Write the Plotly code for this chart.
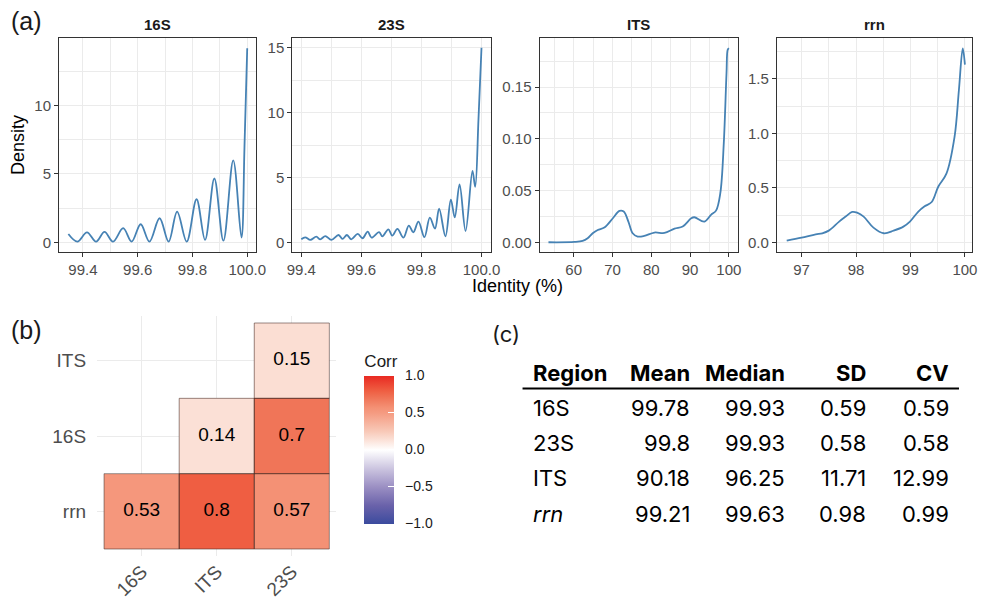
import plotly.graph_objects as go

W, H = 982, 601
# the rendered figure shows up 966 px wide, 8 px from the left edge of the page
X_OFF, X_SPAN = 8, 966


def px(x):
    return (x - X_OFF) / X_SPAN


def py(y):
    return 1 - y / H


# ---------------- data: density curves ----------------
regions = ["16S", "23S", "ITS", "rrn"]

x_16S = [99.347, 99.38, 99.415, 99.448, 99.479, 99.51, 99.547, 99.578, 99.611,
         99.643, 99.68, 99.713, 99.744, 99.779, 99.815, 99.846, 99.88, 99.913,
         99.949, 99.979, 99.99, 100.0]
y_16S = [0.61, 0.05, 0.73, 0.05, 0.76, 0.05, 1.03, 0.05, 1.32,
         0.05, 1.76, 0.05, 2.25, 0.05, 3.15, 0.17, 4.67, 0.12,
         5.99, 0.35, 7.0, 14.2]

x_23S = [99.4, 99.413, 99.43, 99.45, 99.463, 99.48, 99.50, 99.524, 99.537, 99.552,
         99.566, 99.588, 99.604, 99.621, 99.634, 99.659, 99.67, 99.69, 99.703,
         99.72, 99.74, 99.758, 99.773, 99.79, 99.81, 99.828, 99.845, 99.859,
         99.88, 99.898, 99.911, 99.927, 99.947, 99.97, 99.979, 99.99, 100.0]
y_23S = [0.23, 0.38, 0.18, 0.43, 0.23, 0.48, 0.18, 0.56, 0.26, 0.56,
         0.23, 0.64, 0.31, 0.82, 0.36, 0.79, 0.46, 1.0, 0.51,
         1.03, 0.36, 1.28, 0.77, 1.59, 0.39, 1.9, 1.05, 2.59,
         0.46, 3.28, 1.92, 4.46, 0.87, 5.5, 4.27, 9.5, 15.0]

x_ITS = [53.5, 60.2, 62.3, 63.6, 64.9, 66.2, 67.9, 70.1, 71.8, 72.9, 74.1, 75.2,
         76.5, 78.2, 80.8, 83.4, 86.0, 88.1, 90.3, 91.1, 93.7, 95.4, 96.7, 97.8,
         98.7, 99.4, 99.7, 100.0]
y_ITS = [0.0, 0.0003, 0.0013, 0.0039, 0.0087, 0.0119, 0.0142, 0.0232, 0.0303,
         0.0297, 0.020, 0.0087, 0.0055, 0.0061, 0.0094, 0.009, 0.0132, 0.0152,
         0.0232, 0.0242, 0.020, 0.0265, 0.0306, 0.0474, 0.0958, 0.1635, 0.186,
         0.1877]

x_rrn = [96.727, 97.0, 97.26, 97.38, 97.5, 97.69, 97.81, 97.93, 98.02, 98.14,
         98.32, 98.51, 98.69, 98.87, 98.99, 99.14, 99.26, 99.39, 99.51, 99.66,
         99.81, 99.89, 99.96, 100.0]
y_rrn = [0.015, 0.043, 0.073, 0.083, 0.107, 0.19, 0.236, 0.279, 0.272, 0.236,
         0.135, 0.083, 0.107, 0.144, 0.19, 0.28, 0.33, 0.37, 0.51, 0.63,
         0.97, 1.40, 1.78, 1.63]

# tick labels
xt_16S = [99.4, 99.6, 99.8, 100.0]
xl_16S = ["99.4", "99.6", "99.8", "100.0"]
yt_16S = [0, 5, 10]
yl_16S = ["0", "5", "10"]
xt_23S = [99.4, 99.6, 99.8, 100.0]
xl_23S = ["99.4", "99.6", "99.8", "100.0"]
yt_23S = [0, 5, 10, 15]
yl_23S = ["0", "5", "10", "15"]
xt_ITS = [60, 70, 80, 90, 100]
xl_ITS = ["60", "70", "80", "90", "100"]
yt_ITS = [0, 0.05, 0.10, 0.15]
yl_ITS = ["0.00", "0.05", "0.10", "0.15"]
xt_rrn = [97, 98, 99, 100]
xl_rrn = ["97", "98", "99", "100"]
yt_rrn = [0, 0.5, 1.0, 1.5]
yl_rrn = ["0.0", "0.5", "1.0", "1.5"]

# ---------------- data: correlation ----------------
corr_x = ["16S", "ITS", "23S"]
corr_y = ["rrn", "16S", "ITS"]
corr_z = [[0.53, 0.8, 0.57],
          [None, 0.14, 0.7],
          [None, None, 0.15]]
cbar_vals = [-1.0, -0.5, 0.0, 0.5, 1.0]
cbar_text = ["\u22121.0", "\u22120.5", "0.0", "0.5", "1.0"]

# ---------------- data: summary table ----------------
tbl_header = ["Region", "Mean", "Median", "SD", "CV"]
tbl_region = ["16S", "23S", "ITS", "rrn"]
tbl_mean = ["99.78", "99.8", "90.18", "99.21"]
tbl_median = ["99.93", "99.93", "96.25", "99.63"]
tbl_sd = ["0.59", "0.58", "11.71", "0.98"]
tbl_cv = ["0.59", "0.58", "12.99", "0.99"]

# ---------------- layout constants ----------------
panels = {
    "16S": dict(xd=(62, 259), xr=(99.313, 100.033), yr=(-0.71, 14.95),
                xmin=[99.5, 99.7, 99.9], ymin=[2.5, 7.5, 12.5],
                x=x_16S, y=y_16S, xt=xt_16S, xl=xl_16S, yt=yt_16S, yl=yl_16S),
    "23S": dict(xd=(295, 493), xr=(99.37, 100.03), yr=(-0.75, 15.75),
                xmin=[99.5, 99.7, 99.9], ymin=[2.5, 7.5, 12.5],
                x=x_23S, y=y_23S, xt=xt_23S, xl=xl_23S, yt=yt_23S, yl=yl_23S),
    "ITS": dict(xd=(542, 740), xr=(51.2, 102.3), yr=(-0.0094, 0.1974),
                xmin=[55, 65, 75, 85, 95], ymin=[0.025, 0.075, 0.125, 0.175],
                x=x_ITS, y=y_ITS, xt=xt_ITS, xl=xl_ITS, yt=yt_ITS, yl=yl_ITS),
    "rrn": dict(xd=(779, 974), xr=(96.545, 100.13), yr=(-0.089, 1.875),
                xmin=[96.5, 97.5, 98.5, 99.5], ymin=[0.25, 0.75, 1.25, 1.75],
                x=x_rrn, y=y_rrn, xt=xt_rrn, xl=xl_rrn, yt=yt_rrn, yl=yl_rrn),
}
PANEL_TOP, PANEL_BOT = 38, 252
GRID = "#EBEBEB"
BORDER = "#333333"
TICKC = "#4D4D4D"
FONT = "Liberation Sans, Arial, sans-serif"
TFONT = "Inter, Liberation Sans, sans-serif"
NBSP = "\u00a0"

fig = go.Figure()
layout = dict(width=W, height=H, autosize=False, margin=dict(l=0, r=0, t=0, b=0, pad=0),
              paper_bgcolor="white", plot_bgcolor="white", showlegend=False,
              font=dict(family=FONT))
annotations = []
shapes = []

for i, reg in enumerate(regions, start=1):
    p = panels[reg]
    xa = "x" if i == 1 else f"x{i}"
    ya = "y" if i == 1 else f"y{i}"
    fig.add_trace(go.Scatter(x=p["x"], y=p["y"], mode="lines",
                             line=dict(color="#4682B4", width=1.8, shape="spline", smoothing=1.0),
                             xaxis=xa, yaxis=ya, hoverinfo="skip"))
    common = dict(showline=True, mirror=True, linecolor=BORDER, linewidth=1,
                  ticks="outside", ticklen=4, tickcolor=BORDER, tickwidth=1,
                  showgrid=True, gridcolor=GRID, gridwidth=1.3, zeroline=False,
                  tickfont=dict(size=15, color=TICKC, family=FONT))
    layout["xaxis" if i == 1 else f"xaxis{i}"] = dict(
        common, domain=[max(0, px(p["xd"][0])), min(1, px(p["xd"][1]))], range=list(p["xr"]),
        anchor=ya, tickmode="array", tickvals=p["xt"], ticktext=p["xl"],
        minor=dict(tickmode="array", tickvals=p["xmin"], showgrid=True,
                   gridcolor=GRID, gridwidth=0.7, ticks=""))
    layout["yaxis" if i == 1 else f"yaxis{i}"] = dict(
        common, domain=[py(PANEL_BOT), py(PANEL_TOP)], range=list(p["yr"]),
        anchor=xa, tickmode="array", tickvals=p["yt"], ticktext=p["yl"],
        minor=dict(tickmode="array", tickvals=p["ymin"], showgrid=True,
                   gridcolor=GRID, gridwidth=0.7, ticks=""))
    annotations.append(dict(text=f"<b>{reg}</b>", x=px((p["xd"][0] + p["xd"][1]) / 2), y=py(25),
                            xref="paper", yref="paper", showarrow=False,
                            font=dict(size=15, color="#1A1A1A", family=FONT),
                            xanchor="center", yanchor="middle"))

annotations.append(dict(text="Density", x=px(21), y=py(145), xref="paper", yref="paper",
                        showarrow=False, textangle=-90, font=dict(size=18, color="black"),
                        xanchor="center", yanchor="middle"))
annotations.append(dict(text="Identity (%)", x=px(520), y=py(286), xref="paper", yref="paper",
                        showarrow=False, font=dict(size=18, color="black"),
                        xanchor="center", yanchor="middle"))
for lab, lx, ly in [("(a)", 12, 21), ("(b)", 12, 330)]:
    annotations.append(dict(text=lab, x=px(lx), y=py(ly), xref="paper", yref="paper",
                            showarrow=False, font=dict(size=25, color="#1A1A1A"),
                            xanchor="left", yanchor="middle"))
annotations.append(dict(text="(c)", x=px(492), y=py(334), xref="paper", yref="paper",
                        showarrow=False, font=dict(size=22, color="#1A1A1A", family=TFONT),
                        xanchor="left", yanchor="middle"))

# ---------------- correlation heatmap ----------------
colorscale = [
    [0.0, "#3B4B9E"], [0.125, "#6A62AA"], [0.25, "#9B8FC3"], [0.375, "#CCC5E0"],
    [0.5, "#FFFFFF"], [0.57, "#FBE0D6"], [0.625, "#F8C9B8"], [0.75, "#F59B81"],
    [0.785, "#F49175"], [0.85, "#F07558"], [0.9, "#EF5E42"], [1.0, "#E92A22"],
]
ix = list(range(len(corr_x)))
iy = list(range(len(corr_y)))
fig.add_trace(go.Heatmap(
    x=ix, y=iy, z=corr_z, zmin=-1, zmax=1, colorscale=colorscale,
    xaxis="x5", yaxis="y5", hoverinfo="skip",
    colorbar=dict(x=px(367), xanchor="left", y=py(437.5), yanchor="middle",
                  len=172, lenmode="pixels", thickness=30, thicknessmode="pixels",
                  xpad=0, ypad=0, outlinewidth=0,
                  ticks="inside", ticklen=6, tickcolor="white", tickwidth=1,
                  tickmode="array", tickvals=cbar_vals,
                  ticktext=[NBSP * 2 + t for t in cbar_text],
                  tickfont=dict(size=14, color="#1A1A1A", family=FONT),
                  title=dict(text="Corr", side="top", font=dict(size=17, color="#1A1A1A", family=FONT)))))

tx, ty, tt = [], [], []
for r, row in enumerate(corr_z):
    for c, v in enumerate(row):
        if v is None:
            continue
        tx.append(c)
        ty.append(r)
        tt.append(str(v))
        shapes.append(dict(type="rect", xref="x5", yref="y5", x0=c - 0.5, x1=c + 0.5,
                           y0=r - 0.5, y1=r + 0.5, line=dict(color="rgba(70,45,40,0.55)", width=1),
                           fillcolor="rgba(0,0,0,0)", layer="above"))
fig.add_trace(go.Scatter(x=tx, y=ty, text=tt, mode="text", xaxis="x5", yaxis="y5",
                         textfont=dict(size=19, color="black", family=FONT), hoverinfo="skip"))

layout["xaxis5"] = dict(domain=[px(100), px(339)], range=[-0.593, 2.593], anchor="y5",
                        tickmode="array", tickvals=ix, ticktext=corr_x, tickangle=-45,
                        showgrid=True, gridcolor=GRID, gridwidth=1.3, zeroline=False,
                        showline=False, ticks="", tickfont=dict(size=19, color=TICKC, family=FONT))
layout["yaxis5"] = dict(domain=[py(556), py(316)], range=[-0.593, 2.593], anchor="x5",
                        tickmode="array", tickvals=iy, ticktext=corr_y,
                        showgrid=True, gridcolor=GRID, gridwidth=1.3, zeroline=False,
                        showline=False, ticks="", ticklabelstandoff=10,
                        tickfont=dict(size=19, color=TICKC, family=FONT))

# ---------------- summary table ----------------
col_x = [533, 694, 789, 870, 953]
col_anchor = ["left", "right", "right", "right", "right"]
head_y = 373
row_y = [408, 443, 478, 514]
for h, cx, an in zip(tbl_header, col_x, col_anchor):
    annotations.append(dict(text=f"<b>{h}</b>", x=px(cx), y=py(head_y), xref="paper", yref="paper",
                            showarrow=False, xanchor=an, yanchor="middle",
                            font=dict(size=22, color="black", family=TFONT)))
columns = [tbl_region, tbl_mean, tbl_median, tbl_sd, tbl_cv]
for ci, (col, cx, an) in enumerate(zip(columns, col_x, col_anchor)):
    for ri, val in enumerate(col):
        txt = val
        if ci == 0 and val == "rrn":
            txt = "<i>rrn</i>"
        annotations.append(dict(text=txt, x=px(cx), y=py(row_y[ri]), xref="paper", yref="paper",
                                showarrow=False, xanchor=an, yanchor="middle",
                                font=dict(size=22, color="black", family=TFONT)))
shapes.append(dict(type="line", xref="paper", yref="paper", x0=px(525), x1=px(961),
                   y0=py(388.5), y1=py(388.5), line=dict(color="black", width=2)))

layout["annotations"] = annotations
layout["shapes"] = shapes
fig.update_layout(**layout)
fig.write_html("out.html", config={"displayModeBar": False})
